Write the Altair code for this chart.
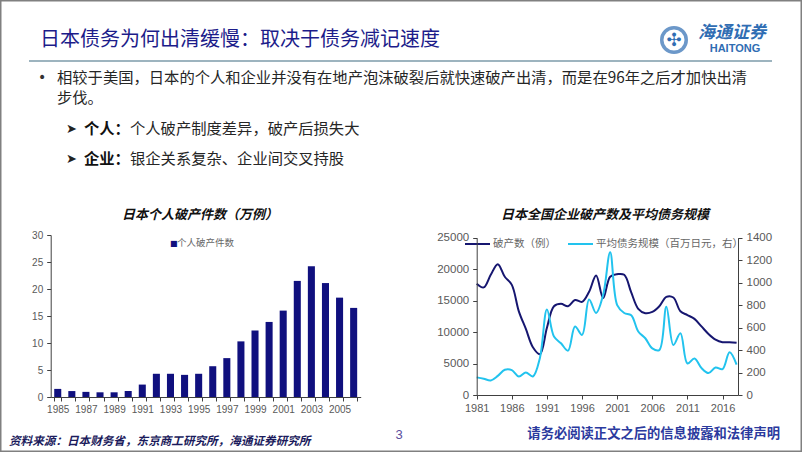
import altair as alt
import pandas as pd

# ---------------- data ----------------
pb_years = list(range(1985, 2007))
pb_values = [1.5, 1.1, 0.95, 0.87, 0.87, 1.1, 2.3, 4.3, 4.3, 4.1, 4.3, 5.7,
             7.2, 10.3, 12.3, 13.9, 16.0, 21.5, 24.2, 21.1, 18.4, 16.5]

corp_years = list(range(1981, 2019))
corp_bankrupt = [17700, 17100, 19100, 20800, 18800, 17500, 13300, 10500, 7600, 6500,
                 10700, 14100, 14500, 14100, 15100, 14800, 16400, 19000, 15400, 18800,
                 19200, 19100, 16300, 13700, 13000, 13200, 14100, 15600, 15500, 13300,
                 12700, 12100, 10900, 9700, 8800, 8400, 8400, 8300]
avg_debt = [157, 145, 130, 170, 225, 222, 165, 200, 165, 330,
            760, 520, 460, 395, 610, 535, 850, 730, 890, 1270,
            800, 730, 710, 565, 505, 415, 400, 785, 445, 550,
            280, 325, 240, 195, 245, 230, 380, 270]

left_y_ticks = [0, 5, 10, 15, 20, 25, 30]
right_x_ticks = [1981, 1986, 1991, 1996, 2001, 2006, 2011, 2016]
right_y1_ticks = [0, 5000, 10000, 15000, 20000, 25000]
right_y2_ticks = [0, 200, 400, 600, 800, 1000, 1200, 1400]

title_text = "日本债务为何出清缓慢：取决于债务减记速度"
bullet_text = "相较于美国，日本的个人和企业并没有在地产泡沫破裂后就快速破产出清，而是在96年之后才加快出清"
bullet_text2 = "步伐。"
sub1_bold, sub1_text = "个人：", "个人破产制度差异，破产后损失大"
sub2_bold, sub2_text = "企业：", "银企关系复杂、企业间交叉持股"
left_title = "日本个人破产件数（万例）"
left_legend = "个人破产件数"
right_title = "日本全国企业破产数及平均债务规模"
right_leg1 = "破产数（例）"
right_leg2 = "平均债务规模（百万日元，右）"
source_text = "资料来源：日本财务省，东京商工研究所，海通证券研究所"
page_no = "3"
disclaimer = "请务必阅读正文之后的信息披露和法律声明"

W, H = 802, 452
CJK = "Noto Sans CJK SC"
NUM = "Liberation Sans"
NAVY = "#10107E"
CYAN = "#22C3EE"
AX = "#404040"
LBL = "#595959"

pb_df = pd.DataFrame({"year": pb_years, "value": pb_values})
corp_df = pd.DataFrame({"year": corp_years, "bankrupt": corp_bankrupt, "debt": avg_debt})

one = alt.Data(values=[{}])


def txt(s, x, y, size=12, color="#222222", font=CJK, weight="normal", style="normal",
        align="left", baseline="middle"):
    return alt.Chart(one).mark_text(
        text=s, fontSize=size, color=color, font=font, fontWeight=weight,
        fontStyle=style, align=align, baseline=baseline
    ).encode(x=alt.value(x), y=alt.value(y))


def hline(x1, x2, y, color, width=1.0):
    return alt.Chart(one).mark_rule(color=color, strokeWidth=width).encode(
        x=alt.value(x1), x2=alt.value(x2), y=alt.value(y))


# ---------------- left chart: bars ----------------
L_X0, L_X1, L_Y0, L_Y1 = 50.7, 360.7, 397, 235
bars = alt.Chart(pb_df).mark_bar(color=NAVY).encode(
    x=alt.X("year:O",
            scale=alt.Scale(range=[L_X0, L_X1], paddingInner=0.5, paddingOuter=0.25),
            axis=alt.Axis(title=None, orient="bottom", offset=L_Y0 - H, labelAngle=0,
                          labelExpr="datum.value % 2 == 1 ? datum.label : ''",
                          tickBand="extent", labelFont=NUM, labelFontSize=10,
                          labelColor=LBL, domainColor=AX, tickColor=AX, tickSize=4,
                          labelPadding=3, labelOverlap=False, zindex=1)),
    y=alt.Y("value:Q",
            scale=alt.Scale(domain=[0, 30], range=[L_Y0, L_Y1], nice=False),
            axis=alt.Axis(title=None, orient="left", offset=-L_X0, values=left_y_ticks,
                          grid=False, labelFont=NUM, labelFontSize=10, labelColor=LBL,
                          domainColor=AX, tickColor=AX, tickSize=4, labelPadding=4,
                          zindex=1)),
)

# ---------------- right chart: lines ----------------
R_X0, R_X1, R_Y0, R_Y1 = 476.7, 738.0, 395.0, 237.7
xs = alt.Scale(domain=[1981, 2018.2], range=[R_X0, R_X1], nice=False, zero=False)

line_bk = alt.Chart(corp_df).mark_line(color="#161670", strokeWidth=2,
                                       interpolate="catmull-rom").encode(
    x=alt.X("year:Q", scale=xs,
            axis=alt.Axis(title=None, orient="bottom", offset=R_Y0 - H,
                          values=right_x_ticks, format="d", labelFont=NUM,
                          labelFontSize=11, labelColor=LBL, domainColor=AX,
                          tickColor=AX, tickSize=4, grid=False, labelPadding=3,
                          labelOverlap=False, labelFlush=False, zindex=1)),
    y=alt.Y("bankrupt:Q",
            scale=alt.Scale(domain=[0, 25000], range=[R_Y0, R_Y1], nice=False),
            axis=alt.Axis(title=None, orient="left", offset=-R_X0, values=right_y1_ticks,
                          format="d", grid=False, labelFont=NUM, labelFontSize=11.5,
                          labelColor=LBL, domainColor=AX, tickColor=AX, tickSize=4,
                          labelPadding=4, labelOverlap=False, zindex=1)),
)

line_debt = alt.Chart(corp_df).mark_line(color=CYAN, strokeWidth=2,
                                         interpolate="catmull-rom").encode(
    x=alt.X("year:Q", scale=xs, axis=None),
    y=alt.Y("debt:Q",
            scale=alt.Scale(domain=[0, 1400], range=[R_Y0, R_Y1], nice=False),
            axis=alt.Axis(title=None, orient="right", offset=R_X1 - W,
                          values=right_y2_ticks, format="d", grid=False,
                          labelFont=NUM, labelFontSize=11.5, labelColor=LBL,
                          domainColor=AX, tickColor=AX, tickSize=4, labelPadding=4,
                          labelOverlap=False, zindex=1)),
)

# ---------------- slide decoration & text ----------------
frame = alt.Chart(one).mark_rect(filled=False, stroke="#808080", strokeWidth=1.5).encode(
    x=alt.value(0.75), x2=alt.value(W - 0.75), y=alt.value(0.75), y2=alt.value(H - 0.75))

logo_ring = alt.Chart(one).mark_point(shape="circle", size=600, filled=False,
                                      color="#2F6DB3", strokeWidth=3.5).encode(
    x=alt.value(674), y=alt.value(40))
logo_inner = txt("✣", 674, 41, size=18, color="#2F6DB3", font="DejaVu Sans", align="center")

layers = [
    frame,
    txt(title_text, 40, 40, size=20, color="#1C1C8A"),
    logo_ring, logo_inner,
    txt("海通证券", 698, 33, size=17, color="#2F6DB3", style="italic", weight="bold"),
    txt("HAITONG", 735, 49, size=11, color="#2F6DB3", font=NUM, weight="bold", align="center"),
    hline(29, 772, 61, "#7D9BAA", 1.5),
    txt("•", 38, 78, size=14, color="#333333", font="DejaVu Sans"),
    txt(bullet_text, 57, 78, size=15.3, color="#262626"),
    txt(bullet_text2, 57, 98, size=15.3, color="#262626"),
    txt("➤", 66, 129, size=13, color="#222222", font="DejaVu Sans"),
    txt(sub1_bold, 84, 129, size=15.3, color="#111111", weight="bold"),
    txt(sub1_text, 130, 129, size=15.3, color="#262626"),
    txt("➤", 66, 159, size=13, color="#222222", font="DejaVu Sans"),
    txt(sub2_bold, 84, 159, size=15.3, color="#111111", weight="bold"),
    txt(sub2_text, 130, 159, size=15.3, color="#262626"),
    # chart titles
    txt(left_title, 200, 215, size=13, color="#111111", weight="bold", style="italic",
        align="center"),
    txt(right_title, 605, 215, size=13, color="#111111", weight="bold", style="italic",
        align="center"),
    # left legend
    txt("■", 170, 243.5, size=8, color=NAVY, font="DejaVu Sans"),
    txt(left_legend, 177, 243, size=9.5, color="#666666"),
    # right legend
    hline(465, 490, 244, "#161670", 2),
    txt(right_leg1, 493, 244, size=10.5, color="#666666"),
    hline(568, 593, 244, CYAN, 2),
    txt(right_leg2, 596, 244, size=10.5, color="#666666"),
    # data
    bars, line_bk, line_debt,
    # footer
    txt(source_text, 9, 442, size=11.6, color="#1B1B5C", weight="bold", style="italic"),
    txt(page_no, 399, 435, size=13, color="#5A4E9E", font=NUM, align="center"),
    txt(disclaimer, 780, 434, size=13.3, color="#2B3A9E", weight="bold", align="right"),
]

chart = alt.layer(*layers).resolve_scale(
    x="independent", y="independent"
).resolve_axis(
    x="independent", y="independent"
).properties(
    width=W, height=H, autosize="none", padding=0, background="white"
).configure_view(stroke=None)

chart.save("out.html", embed_options={"renderer": "svg", "actions": False})
